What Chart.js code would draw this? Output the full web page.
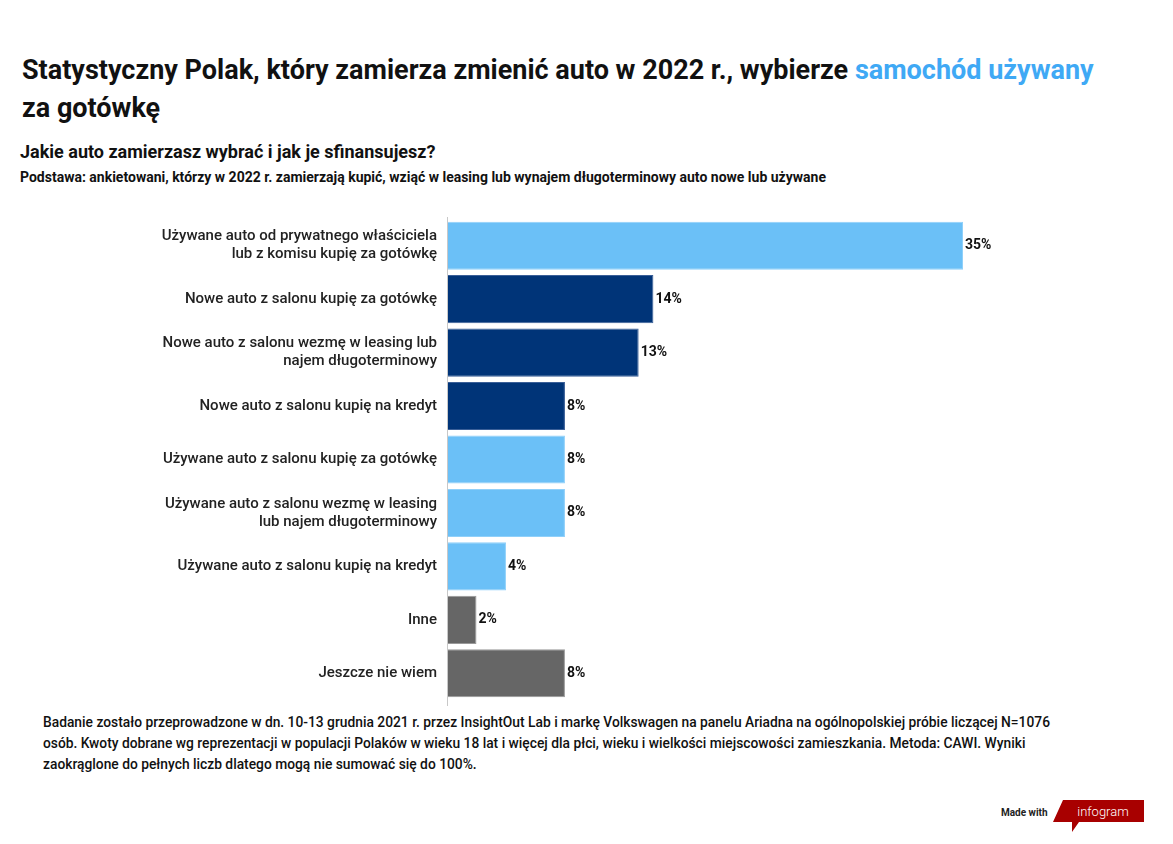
<!DOCTYPE html>
<html>
<head>
<meta charset="utf-8">
<script src="https://cdn.jsdelivr.net/npm/chart.js@4/dist/chart.umd.min.js"></script>
<style>
  html, body { margin:0; padding:0; background:#fff; }
  body { width:1173px; height:844px; position:relative; overflow:hidden; font-family: Roboto, "Noto Sans", sans-serif; color:#111; }
  .txt { position:absolute; left:22px; white-space:nowrap; transform-origin:0 0; }
  #title { top:51px; font-size:27px; font-weight:700; line-height:38px; }
  #title .hl { color:#3fa9f5; }
  #sub { top:141px; left:20px; font-size:18px; font-weight:700; }
  #base { top:169px; left:20px; font-size:14px; font-weight:700; }
  #foot { top:712px; left:43px; font-size:15px; font-weight:500; line-height:21px; white-space:normal; width:1125px; transform:scaleX(0.92); }
  #wrap { position:absolute; left:0; top:212px; width:1173px; height:498px; }
  #made { position:absolute; left:1001px; top:807px; font-size:10px; font-weight:700; color:#222; }
  #logo { position:absolute; left:1053px; top:800px; }
</style>
</head>
<body>
<div id="title" class="txt">Statystyczny Polak, który zamierza zmienić auto w 2022 r., wybierze <span class="hl">samochód używany</span><br>za gotówkę</div>
<div id="sub" class="txt">Jakie auto zamierzasz wybrać i jak je sfinansujesz?</div>
<div id="base" class="txt">Podstawa: ankietowani, którzy w 2022 r. zamierzają kupić, wziąć w leasing lub wynajem długoterminowy auto nowe lub używane</div>
<div id="wrap"><canvas id="chart"></canvas></div>
<div id="foot" class="txt">Badanie zostało przeprowadzone w dn. 10-13 grudnia 2021 r. przez InsightOut Lab i markę Volkswagen na panelu Ariadna na ogólnopolskiej próbie liczącej N=1076 osób. Kwoty dobrane wg reprezentacji w populacji Polaków w wieku 18 lat i więcej dla płci, wieku i wielkości miejscowości zamieszkania. Metoda: CAWI. Wyniki zaokrąglone do pełnych liczb dlatego mogą nie sumować się do 100%.</div>
<div id="made">Made with</div>
<svg id="logo" width="95" height="34" viewBox="0 0 95 34">
  <polygon points="10,0 91,0 91,22 26,22 19,32 19,22 0,22" fill="#a80000"/>
  <text x="50" y="16" text-anchor="middle" fill="#fff" font-family="Roboto, sans-serif" font-weight="300" font-size="13">infogram</text>
</svg>
<script>
const labels = [
  ['Używane auto od prywatnego właściciela', 'lub z komisu kupię za gotówkę'],
  'Nowe auto z salonu kupię za gotówkę',
  ['Nowe auto z salonu wezmę w leasing lub', 'najem długoterminowy'],
  'Nowe auto z salonu kupię na kredyt',
  'Używane auto z salonu kupię za gotówkę',
  ['Używane auto z salonu wezmę w leasing', 'lub najem długoterminowy'],
  'Używane auto z salonu kupię na kredyt',
  'Inne',
  'Jeszcze nie wiem'
];
const values = [35, 14, 13, 8, 8, 8, 4, 2, 8];
const groups = ['used', 'new', 'new', 'new', 'used', 'used', 'used', 'other', 'other'];

const fill = { used:'#6bc0f7', new:'#003478', other:'#666666' };
const edge = { used:'#8fd0fa', new:'#3a5f98', other:'#999999' };

const valueLabels = {
  id: 'valueLabels',
  afterDatasetsDraw(chart){
    const ctx = chart.ctx;
    const meta = chart.getDatasetMeta(0);
    ctx.save();
    ctx.font = '700 14px Roboto, sans-serif';
    ctx.fillStyle = '#111';
    ctx.textBaseline = 'middle';
    meta.data.forEach((bar, i) => {
      ctx.fillText(values[i] + '%', bar.x + 2, bar.y);
    });
    ctx.restore();
  }
};

// axis line runs a little past the bars, like the original
const axisLine = {
  id: 'axisLine',
  afterDraw(chart){
    const { ctx, chartArea } = chart;
    ctx.save();
    ctx.strokeStyle = '#c8c8c8';
    ctx.lineWidth = 1;
    ctx.beginPath();
    ctx.moveTo(chartArea.left + 0.5, chartArea.top - 2);
    ctx.lineTo(chartArea.left + 0.5, chartArea.bottom + 6);
    ctx.stroke();
    ctx.restore();
  }
};

new Chart(document.getElementById('chart'), {
  type: 'bar',
  data: {
    labels,
    datasets: [{
      data: values,
      backgroundColor: groups.map(g => fill[g]),
      borderColor: groups.map(g => edge[g]),
      borderWidth: 1,
      barPercentage: 0.9,
      categoryPercentage: 1
    }]
  },
  options: {
    indexAxis: 'y',
    responsive: true,
    maintainAspectRatio: false,
    animation: false,
    layout: { padding: { top: 7, bottom: 10, right: 210, left: 0 } },
    plugins: { legend: { display:false }, tooltip: { enabled:false } },
    scales: {
      x: { min:0, max:35, display:false },
      y: {
        afterFit: (s) => { s.width = 447; s.paddingTop = 0; s.paddingBottom = 0; },
        grid: { display:false, drawTicks:false },
        border: { display:false },
        ticks: { color:'#222', padding:10, font:{ family:'Roboto, sans-serif', size:15, weight:'500', lineHeight:1.2 } }
      }
    }
  },
  plugins: [valueLabels, axisLine]
});
</script>
</body>
</html>
